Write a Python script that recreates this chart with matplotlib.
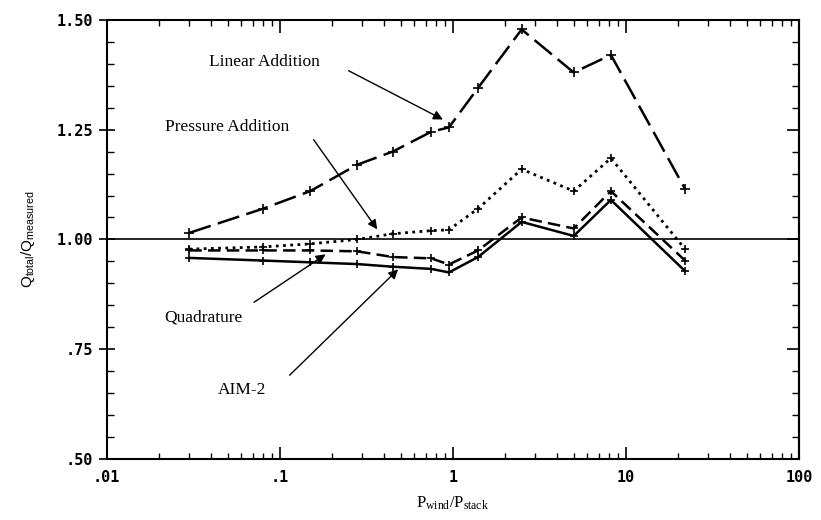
import matplotlib
matplotlib.use('Agg')
import matplotlib.pyplot as plt
from matplotlib.font_manager import FontProperties
from matplotlib.ticker import FixedLocator, FixedFormatter, MultipleLocator, LogLocator, NullFormatter

# Pwind/Pstack bins
p_ratio = [0.03, 0.08, 0.15, 0.28, 0.45, 0.75, 0.95, 1.4, 2.5, 5.0, 8.2, 22.0]

linear_addition = [1.015, 1.07, 1.11, 1.17, 1.20, 1.245, 1.255, 1.345, 1.478, 1.38, 1.42, 1.115]
pressure_addition = [0.978, 0.983, 0.99, 1.0, 1.013, 1.02, 1.022, 1.07, 1.16, 1.11, 1.185, 0.978]
quadrature = [0.975, 0.975, 0.975, 0.973, 0.96, 0.957, 0.943, 0.975, 1.05, 1.025, 1.11, 0.952]
aim2 = [0.958, 0.952, 0.948, 0.944, 0.938, 0.933, 0.925, 0.96, 1.04, 1.008, 1.09, 0.928]

x_ticks = [0.01, 0.1, 1, 10, 100]
x_labels = ['.01', '.1', '1', '10', '100']
y_ticks = [0.50, 0.75, 1.00, 1.25, 1.50]
y_labels = ['.50', '.75', '1.00', '1.25', '1.50']

plt.rcParams['mathtext.fontset'] = 'custom'
plt.rcParams['mathtext.rm'] = 'Liberation Serif'
plt.rcParams['mathtext.sf'] = 'Liberation Sans'

fig = plt.figure(figsize=(8.21, 5.2), dpi=100)
ax = fig.add_axes([0.130, 0.117, 0.843, 0.845])

ax.axhline(1.0, color='black', lw=1.2)

ax.plot(p_ratio, linear_addition, color='black', lw=1.8, dashes=(9, 3),
        marker='+', ms=7, mew=1.2)
ax.plot(p_ratio, pressure_addition, color='black', lw=2.0, dashes=(1, 1.6),
        marker='+', ms=6, mew=1.2)
ax.plot(p_ratio, quadrature, color='black', lw=1.8, dashes=(5, 2.5),
        marker='+', ms=6, mew=1.2)
ax.plot(p_ratio, aim2, color='black', lw=1.8, marker='+', ms=6, mew=1.2)

ax.set_xscale('log')
ax.set_xlim(0.01, 100)
ax.set_ylim(0.5, 1.5)

tick_font = FontProperties(family='DejaVu Sans Mono', weight='bold', size=11)
ax.xaxis.set_major_locator(FixedLocator(x_ticks))
ax.xaxis.set_major_formatter(FixedFormatter(x_labels))
ax.xaxis.set_minor_locator(LogLocator(base=10, subs=range(2, 10)))
ax.xaxis.set_minor_formatter(NullFormatter())
ax.yaxis.set_major_locator(FixedLocator(y_ticks))
ax.yaxis.set_major_formatter(FixedFormatter(y_labels))
ax.yaxis.set_minor_locator(MultipleLocator(0.05))
for lab in ax.get_xticklabels() + ax.get_yticklabels():
    lab.set_fontproperties(tick_font)

ax.tick_params(axis='x', which='both', direction='in', top=True, bottom=True, pad=8)
ax.tick_params(axis='x', which='major', length=9, width=1.2)
ax.tick_params(axis='x', which='minor', length=4, width=1.0)
ax.tick_params(axis='y', which='both', direction='in', left=True, right=False, pad=4)
ax.tick_params(axis='y', which='major', direction='inout', length=12, width=1.2)
ax.tick_params(axis='y', which='minor', length=5, width=1.0)
for s in ax.spines.values():
    s.set_linewidth(1.5)

# right side ticks point inward only
rax = ax.secondary_yaxis('right')
rax.yaxis.set_major_locator(FixedLocator(y_ticks))
rax.yaxis.set_minor_locator(MultipleLocator(0.05))
rax.tick_params(which='both', direction='in', labelright=False)
rax.tick_params(which='major', length=9, width=1.2)
rax.tick_params(which='minor', length=5, width=1.0)
rax.spines['right'].set_linewidth(1.5)

ax.set_xlabel(r'$\mathrm{P_{wind}/P_{stack}}$', fontsize=12, labelpad=6)
ax.set_ylabel(r'$\mathsf{Q_{total}/Q_{measured}}$', fontsize=11, labelpad=14)

note_font = dict(family='Liberation Serif', size=12.5)
arrow = dict(arrowstyle='-|>', color='black', lw=1.0, mutation_scale=14,
             shrinkA=0, shrinkB=0)

ax.text(0.039, 1.405, 'Linear Addition', ha='left', va='center', **note_font)
ax.annotate('', xy=(0.877, 1.273), xytext=(0.25, 1.384), arrowprops=arrow)
ax.text(0.0216, 1.257, 'Pressure Addition', ha='left', va='center', **note_font)
ax.annotate('', xy=(0.366, 1.023), xytext=(0.157, 1.227), arrowprops=arrow)
ax.text(0.0216, 0.823, 'Quadrature', ha='left', va='center', **note_font)
ax.annotate('', xy=(0.184, 0.966), xytext=(0.071, 0.857), arrowprops=arrow)
ax.text(0.044, 0.657, 'AIM-2', ha='left', va='center', **note_font)
ax.annotate('', xy=(0.483, 0.932), xytext=(0.114, 0.691), arrowprops=arrow)

fig.savefig('out.png', dpi=100)
